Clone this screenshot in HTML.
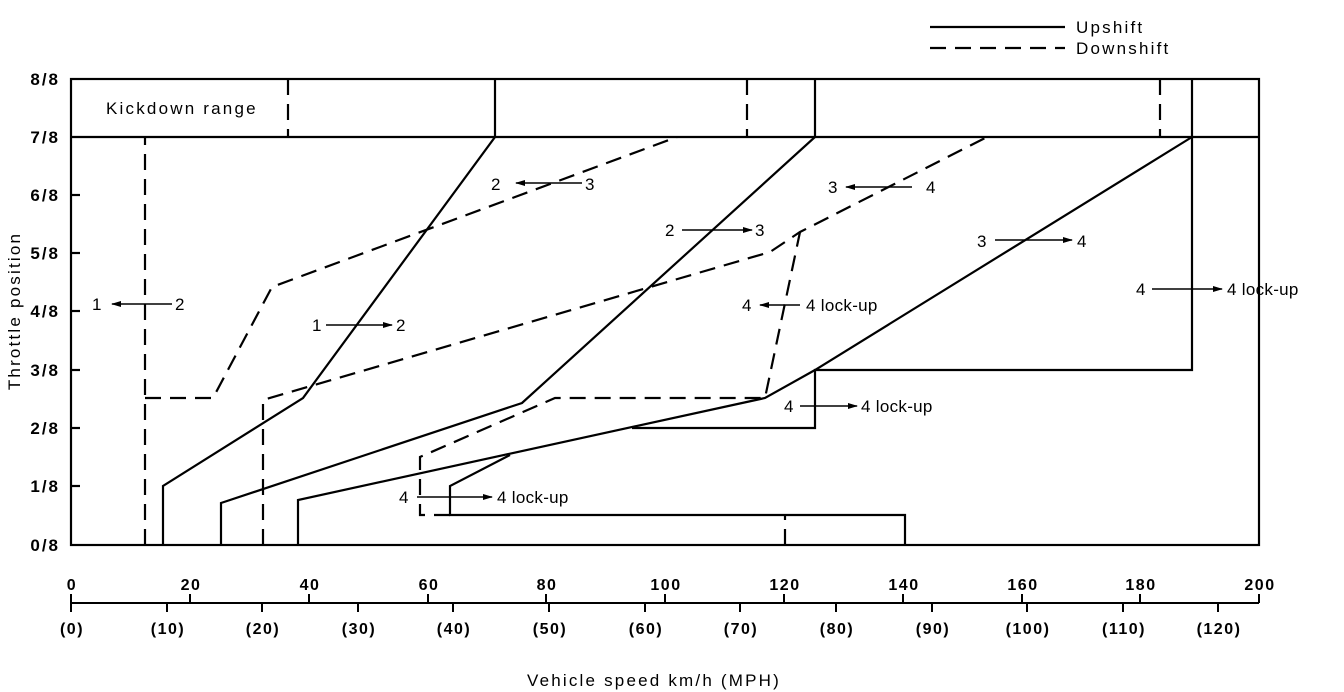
<!DOCTYPE html>
<html><head><meta charset="utf-8"><style>
html,body{margin:0;padding:0;background:#fff}
svg{display:block}
text{font-family:"Liberation Sans",Arial,sans-serif;fill:#000}
.b{font-weight:bold;font-size:16px;letter-spacing:1.5px}
.y{font-weight:bold;font-size:17px;letter-spacing:2px}
.t{font-size:17px;letter-spacing:2.2px}
.a{font-size:17px;letter-spacing:0.3px}
</style></head><body>
<svg width="1344" height="692" viewBox="0 0 1344 692">
<defs><marker id="ah" markerWidth="10" markerHeight="8" refX="9" refY="4" orient="auto" markerUnits="userSpaceOnUse"><path d="M0,1 L10,4 L0,7 Z" fill="#000"/></marker></defs>
<g stroke="#000" stroke-width="2.2" fill="none">
<rect x="71" y="79" width="1188" height="466"/>
<line x1="71" y1="137" x2="1259" y2="137"/>
<line x1="71" y1="195" x2="80" y2="195"/><line x1="71" y1="253" x2="80" y2="253"/><line x1="71" y1="311" x2="80" y2="311"/><line x1="71" y1="370" x2="80" y2="370"/><line x1="71" y1="428" x2="80" y2="428"/><line x1="71" y1="486" x2="80" y2="486"/>
<polyline points="163,545 163,486 303,398 495,137 495,79"/>
<polyline points="221,545 221,503 522,403 815,137 815,79"/>
<polyline points="298,545 298,500 765,398 815,370 1192,137"/>
<polyline points="905,545 905,515 450,515 450,486 510,455"/>
<polyline points="632,428 815,428 815,370 1192,370 1192,79"/>
</g>
<g stroke="#000" stroke-width="2.2" fill="none" stroke-dasharray="16,9">
<line x1="288" y1="79" x2="288" y2="137"/>
<line x1="747" y1="79" x2="747" y2="137"/>
<line x1="1160" y1="79" x2="1160" y2="137"/>
<polyline points="145,545 145,137"/>
<polyline points="145,398 213,398 272,287 677,137"/>
<polyline points="263,545 263,400 770,252 800,232 987,137"/>
<polyline points="450,515 420,515 420,457 555,398 765,398 800,232"/>
<line x1="785" y1="545" x2="785" y2="515"/>
</g>
<line x1="930" y1="27" x2="1065" y2="27" stroke="#000" stroke-width="2.2"/>
<line x1="930" y1="48" x2="1065" y2="48" stroke="#000" stroke-width="2.2" stroke-dasharray="16,9"/>
<text class="t" x="1076" y="33">Upshift</text>
<text class="t" x="1076" y="54">Downshift</text>
<text class="t" x="106" y="114">Kickdown range</text>
<g class="y" text-anchor="end">
<text x="60" y="85">8/8</text><text x="60" y="143">7/8</text><text x="60" y="201">6/8</text><text x="60" y="259">5/8</text><text x="60" y="317">4/8</text><text x="60" y="376">3/8</text><text x="60" y="434">2/8</text><text x="60" y="492">1/8</text><text x="60" y="551">0/8</text>
</g>
<text class="t" transform="translate(20,311) rotate(-90)" text-anchor="middle">Throttle position</text>
<g stroke="#000" stroke-width="2">
<line x1="71" y1="603" x2="1259" y2="603"/>
<line x1="71" y1="594" x2="71" y2="612"/>
<line x1="190" y1="594" x2="190" y2="603"/><line x1="309" y1="594" x2="309" y2="603"/><line x1="428" y1="594" x2="428" y2="603"/><line x1="546" y1="594" x2="546" y2="603"/><line x1="665" y1="594" x2="665" y2="603"/><line x1="784" y1="594" x2="784" y2="603"/><line x1="903" y1="594" x2="903" y2="603"/><line x1="1022" y1="594" x2="1022" y2="603"/><line x1="1140" y1="594" x2="1140" y2="603"/><line x1="1259" y1="594" x2="1259" y2="603"/>
<line x1="167" y1="603" x2="167" y2="612"/><line x1="262" y1="603" x2="262" y2="612"/><line x1="358" y1="603" x2="358" y2="612"/><line x1="453" y1="603" x2="453" y2="612"/><line x1="549" y1="603" x2="549" y2="612"/><line x1="645" y1="603" x2="645" y2="612"/><line x1="740" y1="603" x2="740" y2="612"/><line x1="836" y1="603" x2="836" y2="612"/><line x1="932" y1="603" x2="932" y2="612"/><line x1="1027" y1="603" x2="1027" y2="612"/><line x1="1123" y1="603" x2="1123" y2="612"/><line x1="1218" y1="603" x2="1218" y2="612"/>
</g>
<g class="b" text-anchor="middle">
<text x="72" y="590">0</text><text x="191" y="590">20</text><text x="310" y="590">40</text><text x="429" y="590">60</text><text x="547" y="590">80</text><text x="666" y="590">100</text><text x="785" y="590">120</text><text x="904" y="590">140</text><text x="1023" y="590">160</text><text x="1141" y="590">180</text><text x="1260" y="590">200</text>
<text x="72" y="634">(0)</text><text x="168" y="634">(10)</text><text x="263" y="634">(20)</text><text x="359" y="634">(30)</text><text x="454" y="634">(40)</text><text x="550" y="634">(50)</text><text x="646" y="634">(60)</text><text x="741" y="634">(70)</text><text x="837" y="634">(80)</text><text x="933" y="634">(90)</text><text x="1028" y="634">(100)</text><text x="1124" y="634">(110)</text><text x="1219" y="634">(120)</text>
</g>
<text class="t" x="654" y="686" text-anchor="middle">Vehicle speed km/h (MPH)</text>
<g stroke="#000" stroke-width="1.5" marker-end="url(#ah)">
<line x1="172" y1="304" x2="112" y2="304"/>
<line x1="326" y1="325" x2="392" y2="325"/>
<line x1="582" y1="183" x2="516" y2="183"/>
<line x1="682" y1="230" x2="752" y2="230"/>
<line x1="912" y1="187" x2="846" y2="187"/>
<line x1="995" y1="240" x2="1072" y2="240"/>
<line x1="800" y1="305" x2="760" y2="305"/>
<line x1="1152" y1="289" x2="1222" y2="289"/>
<line x1="800" y1="406" x2="857" y2="406"/>
<line x1="417" y1="497" x2="492" y2="497"/>
</g>
<g class="a">
<text x="92" y="310">1</text><text x="175" y="310">2</text>
<text x="312" y="331">1</text><text x="396" y="331">2</text>
<text x="491" y="190">2</text><text x="585" y="190">3</text>
<text x="665" y="236">2</text><text x="755" y="236">3</text>
<text x="828" y="193">3</text><text x="926" y="193">4</text>
<text x="977" y="247">3</text><text x="1077" y="247">4</text>
<text x="742" y="311">4</text><text x="806" y="311">4 lock-up</text>
<text x="1136" y="295">4</text><text x="1227" y="295">4 lock-up</text>
<text x="784" y="412">4</text><text x="861" y="412">4 lock-up</text>
<text x="399" y="503">4</text><text x="497" y="503">4 lock-up</text>
</g>
</svg>
</body></html>
